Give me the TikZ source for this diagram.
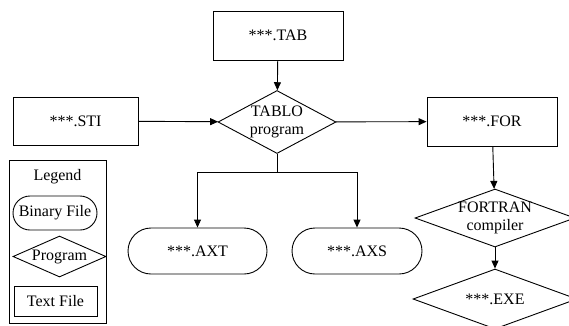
\documentclass[tikz,border=0pt]{standalone}
\usepackage{fontspec}
\setmainfont{Liberation Serif}
\usetikzlibrary{arrows.meta, positioning, shapes.geometric}

\tikzset{
    filebox/.style={draw, line width=0.9pt, inner sep=0pt, align=center},
    binfile/.style={filebox, rounded corners=#1},
    progbox/.style={diamond, draw, line width=0.9pt, inner sep=0pt},
    flow/.style={line width=0.9pt, -{Triangle[length=8pt, width=7pt]}}
}

\begin{document}
\begin{tikzpicture}[x=1pt, y=-1pt, font=\rmfamily\fontsize{16}{18}\selectfont]
        \useasboundingbox (0,0) rectangle (569,325);
        \clip (0,0) rectangle (569,325);

        % Text files
        \node[filebox, minimum width=130pt, minimum height=49pt] (tab) at (278,35.5) {***.TAB};
        \node[filebox, minimum width=125pt, minimum height=48pt] (sti) at (75.5,121) {***.STI};
        \node[filebox, minimum width=130pt, minimum height=49pt] (for) at (492,121.5) {***.FOR};

        % Programs
        \node[progbox, minimum width=118pt, minimum height=63pt,
              label={[align=center, inner sep=0pt]center:TABLO\\program}] (tablo) at (277,122) {};
        \node[progbox, minimum width=160pt, minimum height=58pt,
              label={[align=center, inner sep=0pt]center:FORTRAN\\compiler}] (fortran) at (495,218) {};
        \node[progbox, minimum width=164pt, minimum height=60pt,
              label={[inner sep=0pt]center:***.EXE}] (exe) at (495,299) {};

        % Binary files
        \node[binfile=23pt, minimum width=139pt, minimum height=46pt] (axt) at (197.5,251) {***.AXT};
        \node[binfile=23pt, minimum width=130pt, minimum height=46pt] (axs) at (357,251) {***.AXS};

        % Connectors
        \draw[flow] (tab) -- (tablo);
        \draw[flow] (sti) -- (tablo);
        \draw[flow] (tablo) -- (for);
        \draw[line width=0.9pt] (tablo.south) -- ++(0,18) coordinate (split);
        \draw[flow] (split) -| (axt);
        \draw[flow] (split) -| (axs);
        \draw[flow] (for) -- (fortran);
        \draw[flow] (fortran) -- (exe);

        % Legend
        \node[filebox, minimum width=97pt, minimum height=163pt] (legend) at (57.5,241.5) {};
        \node (legendtitle) at (57.5,177) {Legend};
        \node[binfile=17pt, minimum width=84pt, minimum height=34pt] (keybin) at (55,213) {Binary File};
        \node[progbox, minimum width=93pt, minimum height=41pt,
              label={[inner sep=0pt]center:Program}] (keyprog) at (59.5,256.5) {};
        \node[filebox, minimum width=83pt, minimum height=30pt] (keytext) at (55.5,301) {Text File};
    \end{tikzpicture}
\end{document}
